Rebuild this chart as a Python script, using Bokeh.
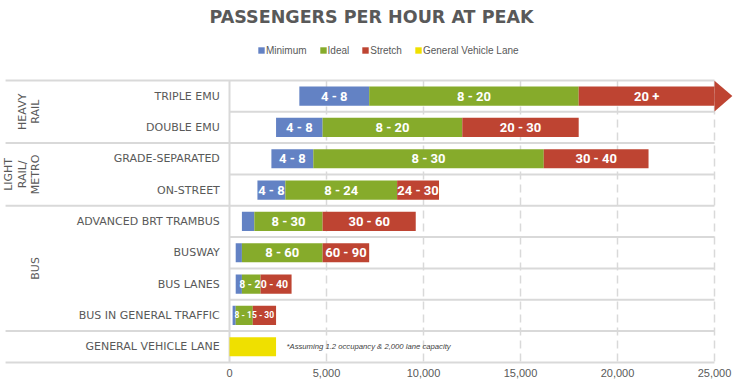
import numpy as np
from bokeh.plotting import figure
from bokeh.models import (ColumnDataSource, Range1d, FixedTicker, NumeralTickFormatter,
                          Legend, LegendItem, Label)
from bokeh.core.properties import value
from bokeh.embed import file_html
from bokeh.resources import INLINE

# ---------------- data ----------------
categories = ["TRIPLE EMU", "DOUBLE EMU", "GRADE-SEPARATED", "ON-STREET",
              "ADVANCED BRT TRAMBUS", "BUSWAY", "BUS LANES", "BUS IN GENERAL TRAFFIC",
              "GENERAL VEHICLE LANE"]
group_labels = ["HEAVY\nRAIL", "LIGHT\nRAIL/\nMETRO", "BUS", ""]
group_sizes = [2, 2, 4, 1]

minimum_start = [3600, 2400, 2160, 1440, 640, 320, 320, 160]
minimum_end = [7200, 4800, 4320, 2880, 1280, 640, 640, 320]
ideal_end = [18000, 12000, 16200, 8640, 4800, 4800, 1600, 1200]
stretch_end = [25000, 18000, 21600, 10800, 9600, 7200, 3200, 2400]
stretch_open = [True, False, False, False, False, False, False, False]

general_vehicle_lane = [2400]

minimum_labels = ["4 - 8", "4 - 8", "4 - 8", "4 - 8", "", "", "", ""]
ideal_labels = ["8 - 20", "8 - 20", "8 - 30", "8 - 24", "8 - 30", "8 - 60", "", ""]
stretch_labels = ["20 +", "20 - 30", "30 - 40", "24 - 30", "30 - 60", "60 - 90", "", ""]
combined_labels = ["", "", "", "", "", "", "8 - 20 - 40", "8 - 15 - 30"]

x_ticks = [0, 5000, 10000, 15000, 20000, 25000]
title_text = "PASSENGERS PER HOUR AT PEAK"
footnote = "*Assuming 1.2 occupancy & 2,000 lane capacity"

# ---------------- style ----------------
BLUE = "#6382c4"
GREEN = "#86ab2b"
RED = "#be4432"
YELLOW = "#efe000"
LINE = "#d9d9d9"
TXT = "#595959"

X_START, X_END = -11804, 26495
Y_BOTTOM, Y_TOP = 8.567, -3.051
BAR_H = 0.61

p = figure(width=743, height=392, output_backend="svg", toolbar_location=None,
           x_range=Range1d(X_START, X_END), y_range=Range1d(Y_BOTTOM, Y_TOP),
           y_axis_location=None, min_border_left=0, min_border_right=0,
           min_border_top=0, min_border_bottom=28, outline_line_color=None,
           background_fill_color="white", border_fill_color="white")
p.xgrid.visible = False
p.ygrid.visible = False

ax = p.xaxis[0]
ax.ticker = FixedTicker(ticks=x_ticks, minor_ticks=[])
ax.formatter = NumeralTickFormatter(format="0,0")
ax.axis_line_color = None
ax.major_tick_line_color = None
ax.minor_tick_line_color = None
ax.major_tick_out = 0
ax.major_tick_in = 0
ax.minor_tick_out = 0
ax.major_label_text_font_size = "11px"
ax.major_label_text_color = TXT
ax.major_label_text_font = "Liberation Sans"
ax.major_label_standoff = 4

n = len(categories)
rows = list(range(n))
x_max = x_ticks[-1]

# group / category separators
bounds = np.concatenate([[0], np.cumsum(group_sizes)]) - 0.5
cat_bounds = [k - 0.5 for k in range(1, n) if (k - 0.5) not in set(bounds)]
p.segment(x0=[X_START + 260] * len(bounds), x1=[x_max] * len(bounds), y0=bounds, y1=bounds,
          line_color=LINE, line_width=2)
p.segment(x0=[x_ticks[0]] * len(cat_bounds), x1=[x_max] * len(cat_bounds),
          y0=cat_bounds, y1=cat_bounds, line_color=LINE, line_width=2)
# dashed vertical grid + solid axis line at zero
p.segment(x0=x_ticks[1:], x1=x_ticks[1:], y0=[bounds[0]] * (len(x_ticks) - 1),
          y1=[bounds[-1]] * (len(x_ticks) - 1), line_color=LINE, line_width=1.5,
          line_dash="8 5")
p.segment(x0=[x_ticks[0]], x1=[x_ticks[0]], y0=[bounds[0]], y1=[bounds[-1]],
          line_color=LINE, line_width=2)

# bars
tr_rows = rows[:len(minimum_start)]
src = ColumnDataSource(dict(y=tr_rows, s=minimum_start, m=minimum_end,
                            i=ideal_end, st=stretch_end))
r_min = p.hbar(y="y", left="s", right="m", height=BAR_H, fill_color=BLUE,
               line_color=None, source=src)
r_ideal = p.hbar(y="y", left="m", right="i", height=BAR_H, fill_color=GREEN,
                 line_color=None, source=src)
r_str = p.hbar(y="y", left="i", right="st", height=BAR_H, fill_color=RED,
               line_color=None, source=src)
r_gvl = p.hbar(y=[rows[-1]], left=[0], right=general_vehicle_lane, height=BAR_H,
               fill_color=YELLOW, line_color=None)

# arrow heads for open-ended stretch ranges
HEAD_LEN, HEAD_HALF = 920, 0.49
xs, ys = [], []
for r, e, o in zip(tr_rows, stretch_end, stretch_open):
    if o:
        xs.append([e, e, e + HEAD_LEN])
        ys.append([r - HEAD_HALF, r + HEAD_HALF, r])
p.patches(xs=xs, ys=ys, fill_color=RED, line_color=None)

# bar labels
def seg_text(lefts, rights, labels, size):
    xs_, ys_, ts_ = [], [], []
    for r, a, b, t in zip(tr_rows, lefts, rights, labels):
        if t:
            xs_.append((a + b) / 2)
            ys_.append(r)
            ts_.append(t)
    p.text(x=xs_, y=ys_, text=ts_, text_align="center", text_baseline="middle",
           text_color="white", text_font=value("Roboto"), text_font_style="bold",
           text_font_size=size)

seg_text(minimum_start, minimum_end, minimum_labels, "13px")
seg_text(minimum_end, ideal_end, ideal_labels, "13px")
seg_text(ideal_end, stretch_end, stretch_labels, "13px")
combo_sizes = {"8 - 20 - 40": "10.5px", "8 - 15 - 30": "8.5px"}
for lbl, sz in combo_sizes.items():
    k = combined_labels.index(lbl)
    p.text(x=[(minimum_start[k] + stretch_end[k]) / 2], y=[tr_rows[k]], text=[lbl],
           text_align="center", text_baseline="middle", text_color="white",
           text_font=value("Roboto"), text_font_style="bold", text_font_size=sz)

# category labels
p.text(x=[-500] * n, y=rows, text=categories, text_align="right", text_baseline="middle",
       text_color=TXT, text_font=value("DejaVu Sans"), text_font_size="11px")

# group labels
g_y, g_t = [], []
start = 0
for g, sz in zip(group_labels, group_sizes):
    if g:
        g_y.append(start + sz / 2 - 0.5)
        g_t.append(g)
    start += sz
p.text(x=[-9650] * len(g_y), y=g_y, text=g_t, angle=np.pi / 2, text_align="center",
       text_baseline="bottom", text_color=TXT, text_font=value("DejaVu Sans"),
       text_font_size="11px", text_line_height=1.05)

# footnote
p.text(x=[general_vehicle_lane[0] + 540], y=[rows[-1]], text=[footnote],
       text_align="left", text_baseline="middle", text_color="#404040",
       text_font=value("Liberation Sans"), text_font_style="italic",
       text_font_size="7.7px")

# title
p.add_layout(Label(x=7320, y=-2.51, text=title_text, text_align="center",
                   text_baseline="middle", text_font="DejaVu Sans",
                   text_font_style="bold", text_font_size="17.5px", text_color=TXT))

# legend
legend = Legend(items=[LegendItem(label="Minimum", renderers=[r_min]),
                       LegendItem(label="Ideal", renderers=[r_ideal]),
                       LegendItem(label="Stretch", renderers=[r_str]),
                       LegendItem(label="General Vehicle Lane", renderers=[r_gvl])],
                location=(257, 308), orientation="horizontal", glyph_width=8,
                glyph_height=8, label_standoff=1, spacing=12, padding=0, margin=0,
                border_line_color=None, background_fill_alpha=0,
                label_text_font_size="10px", label_text_color=TXT,
                label_text_font="Liberation Sans", label_height=12)
p.add_layout(legend)

open("out.html", "w").write(file_html(p, INLINE))
